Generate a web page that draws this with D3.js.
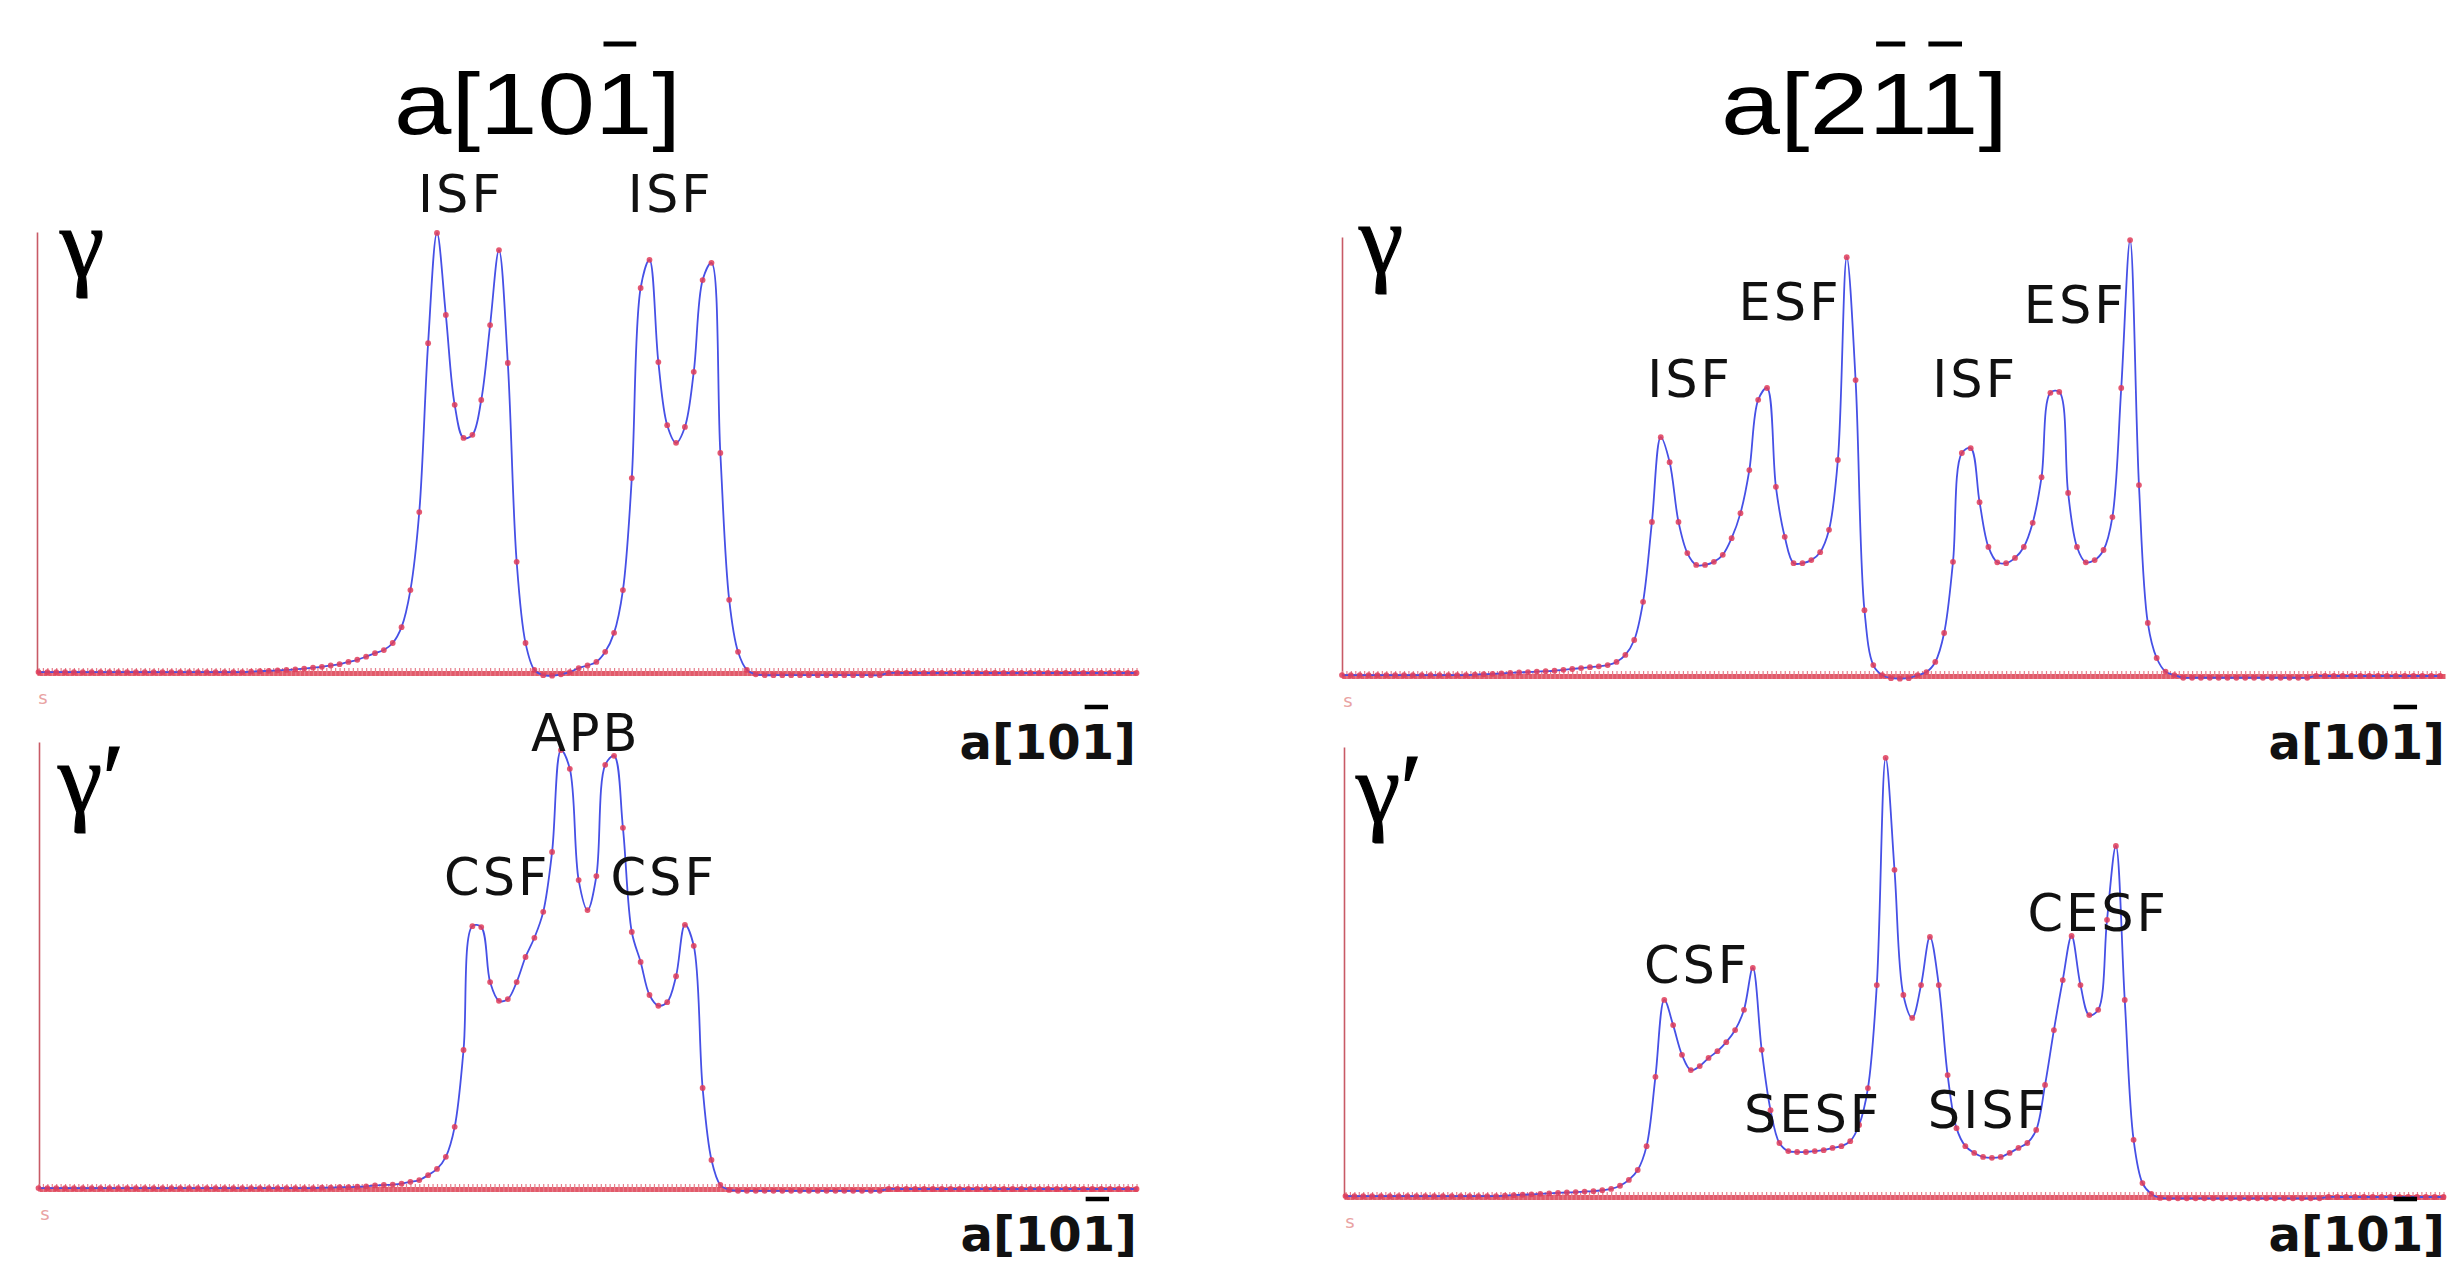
<!DOCTYPE html>
<html><head><meta charset="utf-8">
<script src="https://cdn.jsdelivr.net/npm/d3@7"></script>
<style>html,body{margin:0;padding:0;background:#fff;} svg{display:block;}</style>
</head><body>
<svg id="chart" width="2450" height="1267"></svg>
<script>
// ---------------- DATA ----------------
// sample index along the displacement path, 125 samples
const displacement = d3.range(0, 125);

// gamma phase, a[10-1] slip
const gammaA101 = [
 0.2,0.2,0.2,0.2,0.2,0.2,0.2,0.2,0.2,0.2,
 0.2,0.2,0.2,0.2,0.2,0.2,0.2,0.2,0.2,0.2,
 0.2,0.2,0.2,0.2,0.3,0.4,0.5,0.6,0.7,0.8,
 1.0,1.2,1.4,1.7,2.0,2.5,3.0,3.7,4.5,5.2,
 6.8,10.4,18.8,36.5,74.8,99.8,81.2,60.8,53.3,54.0,
 61.9,78.9,95.9,70.3,25.2,6.8,0.7,-0.5,-0.6,-0.3,
 0.2,1.1,1.7,2.5,4.8,9.1,18.8,44.2,87.3,93.7,
 70.5,56.2,52.2,55.8,68.3,89.1,93.0,49.9,16.6,4.8,
 0.7,-0.3,-0.5,-0.5,-0.5,-0.5,-0.5,-0.5,-0.5,-0.5,
 -0.5,-0.5,-0.5,-0.5,-0.5,-0.5,0,0,0,0,
 0,0,0,0,0,0,0,0,0,0,
 0,0,0,0,0,0,0,0,0,0,
 0,0,0,0,0];

// gamma-prime phase, a[10-1] slip
const gammaPrimeA101 = [
 0.2,0.2,0.2,0.2,0.2,0.2,0.2,0.2,0.2,0.2,
 0.2,0.2,0.2,0.2,0.2,0.2,0.2,0.2,0.2,0.2,
 0.2,0.2,0.2,0.2,0.2,0.2,0.2,0.2,0.2,0.2,
 0.2,0.2,0.3,0.3,0.4,0.4,0.5,0.6,0.8,0.9,
 1.0,1.2,1.6,2.0,3.1,4.5,7.2,13.9,31.1,58.8,
 58.6,46.3,42.1,42.5,46.3,51.9,56.2,62.0,75.4,98.2,
 94.0,69.1,62.4,70.0,94.9,96.9,80.8,57.5,50.8,43.4,
 41.0,41.8,47.6,59.1,54.4,22.6,6.5,0.9,-0.2,-0.4,
 -0.4,-0.4,-0.4,-0.4,-0.4,-0.4,-0.4,-0.4,-0.4,-0.4,
 -0.4,-0.4,-0.4,-0.4,-0.4,-0.4,0,0,0,0,
 0,0,0,0,0,0,0,0,0,0,
 0,0,0,0,0,0,0,0,0,0,
 0,0,0,0,0];

// gamma phase, a[2-1-1] slip
const gammaA211 = [
 0.2,0.2,0.2,0.2,0.2,0.2,0.2,0.2,0.2,0.2,
 0.2,0.2,0.2,0.2,0.2,0.3,0.4,0.5,0.6,0.7,
 0.8,0.9,1.0,1.1,1.2,1.4,1.6,1.8,2.0,2.2,
 2.5,3.2,4.8,8.2,16.9,35.1,54.4,48.7,35.1,28.0,
 25.3,25.3,26.0,27.6,31.4,37.1,46.9,62.9,65.6,43.1,
 31.7,25.7,25.7,26.4,28.2,33.3,49.2,95.4,67.4,15.0,
 2.5,0.2,-0.5,-0.6,-0.5,0.2,0.9,3.2,9.8,26.0,
 50.8,51.9,39.6,29.4,25.9,25.7,26.9,29.4,34.9,45.3,
 64.5,64.7,41.7,29.4,25.9,26.4,28.7,36.2,65.6,99.3,
 43.5,12.1,4.1,1.0,0.2,-0.4,-0.4,-0.4,-0.4,-0.4,
 -0.4,-0.4,-0.4,-0.4,-0.4,-0.4,-0.4,-0.4,-0.4,-0.4,
 0,0,0,0,0,0,0,0,0,0,
 0,0,0,0,0];

// gamma-prime phase, a[2-1-1] slip
const gammaPrimeA211 = [
 0.2,0.2,0.2,0.2,0.2,0.2,0.2,0.2,0.2,0.2,
 0.2,0.2,0.2,0.2,0.2,0.2,0.2,0.2,0.3,0.4,
 0.5,0.6,0.7,0.8,0.9,1.0,1.1,1.2,1.3,1.5,
 1.8,2.5,3.8,6.0,11.3,26.7,43.8,38.2,31.6,28.2,
 29.1,30.9,32.4,34.4,37.1,41.6,50.9,32.7,19.3,12.0,
 10.2,10.0,10.0,10.2,10.4,10.9,11.3,12.4,16.0,24.2,
 47.1,97.6,72.7,44.9,39.8,47.1,57.8,47.1,27.1,15.3,
 11.3,9.8,8.9,8.7,8.9,9.8,10.9,12.0,14.9,24.9,
 37.1,48.2,58.0,47.1,40.4,41.6,61.6,78.0,43.8,12.7,
 3.1,0.7,-0.2,-0.3,-0.3,-0.3,-0.3,-0.3,-0.3,-0.3,
 -0.3,-0.3,-0.3,-0.3,-0.3,-0.3,-0.3,-0.3,-0.3,-0.3,
 -0.3,0,0,0,0,0,0,0,0,0,
 0,0,0,0,0];

// annotations: text, anchor (sample index, value) in data units
const notesGammaA101 = [
 {text:"ISF", i:47.7, v:104.5},
 {text:"ISF", i:71.4, v:104.5}];
const notesGammaPrimeA101 = [
 {text:"APB", i:61.8, v:98.0},
 {text:"CSF", i:51.8, v:65.8},
 {text:"CSF", i:70.6, v:65.8}];
const notesGammaA211 = [
 {text:"ESF", i:50.6, v:81.1},
 {text:"ISF", i:39.3, v:63.6},
 {text:"ISF", i:71.5, v:63.6},
 {text:"ESF", i:82.8, v:80.4}];
const notesGammaPrimeA211 = [
 {text:"CSF", i:39.7, v:47.6},
 {text:"SESF", i:52.8, v:14.4},
 {text:"SISF", i:72.6, v:15.3},
 {text:"CESF", i:85.0, v:59.1}];

// titles: text + indices of digits carrying an overbar
const columnTitles = [
 {text:"a[101]", bars:[4]},
 {text:"a[211]", bars:[3,4]}];
const axisLabel = {text:"a[101]", bars:[4]};
const phaseNames = ["γ", "γ′"];

// ---------------- LAYOUT ----------------
const svg = d3.select("#chart");
svg.append("rect").attr("width",2450).attr("height",1267).attr("fill","#fff");

const panels = [
 {values:gammaA101, notes:notesGammaA101, phase:0, axisX:37, axisEnd:1136, px0:38.5, yTop:232, yBase:673, labelDy:86, greek:[60,277]},
 {values:gammaPrimeA101, notes:notesGammaPrimeA101, phase:1, axisX:39, axisEnd:1137, px0:38.5, yTop:742, yBase:1189, labelDy:62, greek:[58,812]},
 {values:gammaA211, notes:notesGammaA211, phase:0, axisX:1342, axisEnd:2445, px0:1342, yTop:237, yBase:676, labelDy:83, greek:[1359,273]},
 {values:gammaPrimeA211, notes:notesGammaPrimeA211, phase:1, axisX:1344, axisEnd:2445, px0:1345.5, yTop:747, yBase:1197, labelDy:54, greek:[1356,822]}
];
const STEP = 8.855;
const BLUE = "#4650e6", RED = "#e03c58", AXISRED = "#e25a6a";

function addBars(textSel, bars, barY, thick, f0, f1) {
  const node = textSel.node();
  bars.forEach(k => {
    const s = node.getStartPositionOfChar(k).x;
    const e = node.getEndPositionOfChar(k).x;
    const w = e - s;
    svg.append("line")
      .attr("x1", s + f0*w).attr("x2", s + f1*w)
      .attr("y1", barY).attr("y2", barY)
      .attr("stroke", "#000").attr("stroke-width", thick);
  });
}

panels.forEach(p => {
  const x = d3.scaleLinear().domain([0,124]).range([p.px0, p.px0 + 124*STEP]);
  const y = d3.scaleLinear().domain([0,100]).range([p.yBase, p.yTop]);
  const g = svg.append("g");

  // y axis (domain line only)
  g.append("g").attr("transform", `translate(${p.axisX},0)`)
    .call(d3.axisLeft(y).tickValues([]).tickSizeOuter(0))
    .call(s => s.select(".domain").attr("stroke", "#c85a66").attr("stroke-width", 1.6));

  // x axis: thick red band with dense ticks
  const xa = x.copy().domain([x.invert(p.axisX), x.invert(p.axisEnd)]).range([p.axisX, p.axisEnd]);
  g.append("g").attr("transform", `translate(0,${p.yBase})`)
    .call(d3.axisBottom(xa).tickValues(d3.range(0, 124.5, 0.5)).tickSizeInner(3).tickSizeOuter(0).tickFormat(""))
    .call(s => s.select(".domain").attr("stroke", AXISRED).attr("stroke-width", 5))
    .call(s => s.selectAll(".tick line").attr("stroke", "#e67f8c").attr("stroke-width", 1.2).attr("transform","translate(0,-5)").attr("y2", 8));

  // curve
  const line = d3.line().curve(d3.curveCatmullRom.alpha(0.5))
    .x((d,i) => x(displacement[i])).y(d => y(d));
  g.append("path").datum(p.values).attr("d", line)
    .attr("fill", "none").attr("stroke", BLUE).attr("stroke-width", 1.8);
  g.selectAll("circle.pt").data(p.values).join("circle").attr("class","pt")
    .attr("cx", (d,i) => x(displacement[i])).attr("cy", d => y(d))
    .attr("r", 2.9).attr("fill", RED).attr("opacity", 0.85);

  // annotations
  p.notes.forEach(n => {
    g.append("text").attr("x", x(n.i)).attr("y", y(n.v))
      .attr("text-anchor","middle").attr("font-family","DejaVu Sans, Verdana, sans-serif")
      .attr("font-size", 51).attr("letter-spacing", 3).attr("fill","#111").text(n.text);
  });

  // phase label
  svg.append("text").attr("x", p.greek[0]).attr("y", p.greek[1])
    .attr("font-family","Liberation Serif, Times New Roman, serif").attr("font-size", 100)
    .attr("fill","#000").attr("stroke","#000").attr("stroke-width",1.2).text(phaseNames[p.phase]);

  // small 's' under origin
  svg.append("text").attr("x", p.axisX + 6).attr("y", p.yBase + 31)
    .attr("text-anchor","middle").attr("font-family","DejaVu Sans, sans-serif")
    .attr("font-size", 18).attr("fill","#e9a3a3").text("s");

  // axis label bottom-right
  const t = svg.append("text").attr("x", p.axisEnd).attr("y", p.yBase + p.labelDy)
    .attr("text-anchor","end").attr("font-family","DejaVu Sans, Verdana, sans-serif")
    .attr("font-weight","bold").attr("font-size", 48).attr("fill","#111").text(axisLabel.text);
  addBars(t, axisLabel.bars, p.yBase + p.labelDy - 52, 4.5, 0.12, 0.82);
});

// column titles
const titleX = [394, 1721];
columnTitles.forEach((c, k) => {
  const t = svg.append("text").attr("x", titleX[k]).attr("y", 134)
    .attr("font-family","Liberation Sans, Arial, sans-serif").attr("font-size", 88)
    .attr("textLength", 287).attr("lengthAdjust","spacingAndGlyphs")
    .attr("fill","#000").text(c.text);
  addBars(t, c.bars, 44, 5, 0.15, 0.72);
});
</script>
</body></html>
